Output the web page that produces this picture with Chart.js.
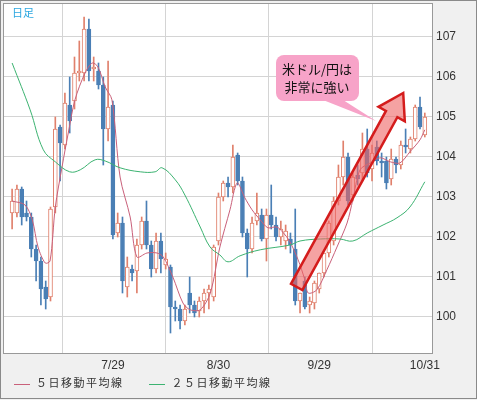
<!DOCTYPE html>
<html>
<head>
<meta charset="utf-8">
<script src="https://cdn.jsdelivr.net/npm/chart.js@4"></script>
<style>
  body { margin: 0; background: #fff; font-family: "Noto Sans CJK JP", sans-serif; }
  #wrap { position: relative; width: 477px; height: 400px; background: #f0f0f0; }
  #c { position: absolute; left: 0; top: 0; }
  #title { position: absolute; left: 12px; top: 4px; font-size: 11px; color: #2aa6e0; }
  #legend { position: absolute; left: 14px; top: 374px; font-size: 11px; color: #333; letter-spacing: 1.5px; }
  #legend span.ln { display: inline-block; width: 16px; height: 1px; vertical-align: middle; margin-right: 6px; }
  #callout { position: absolute; left: 0; top: 0; }
</style>
</head>
<body>
<div id="wrap">
  <canvas id="c" width="477" height="400"></canvas>
  <div id="title">日足</div>
  <svg id="callout" width="477" height="400">
    <polygon points="318,98 340,98 376,121" fill="#f7a3c8"/>
    <rect x="276" y="55" width="83" height="46" rx="8" ry="8" fill="#f7a3c8"/>
    <text x="317" y="74" text-anchor="middle" font-size="13" fill="#111" font-family="Noto Sans CJK JP">米ドル/円は</text>
    <text x="317" y="92" text-anchor="middle" font-size="13" fill="#111" font-family="Noto Sans CJK JP">非常に強い</text>
  </svg>
  <div id="legend">
    <span class="ln" style="background:#c9607a"></span>５日移動平均線
    <span class="ln" style="background:#3cb371;margin-left:22px"></span>２５日移動平均線
  </div>
</div>
<script>
// ローソク足 (始値, 高値, 安値, 終値)
const opens  = [102.6,102.6,103.2,102.6,102.5,101.7,101.4,100.75,100.5,102.75,104.75,104.3,105.3,105.4,106.1,106.1,107.2,106.2,106.15,105.8,104.7,105.3,102.1,102.35,100.75,101.2,101.15,101.8,102.4,101.8,101.2,101.9,101.3,101.25,100.25,100.2,99.9,100.6,100.3,100.15,100.4,100.6,100.5,101.9,103.0,103.35,103.25,104.05,103.4,102.1,101.7,102.4,102.55,101.95,102.55,102.3,102.0,101.9,101.95,101.7,100.4,100.9,100.3,100.35,100.7,101.1,101.6,101.9,102.9,103.5,104.0,103.05,103.55,103.6,104.2,103.7,104.25,103.9,103.9,103.45,103.95,103.8,104.3,104.2,104.45,105.25,104.55];
const highs  = [103.2,103.3,103.25,102.9,102.6,101.8,101.5,100.9,102.75,105.0,104.8,105.6,106.0,106.5,106.9,107.5,107.45,106.5,106.35,106.0,106.4,105.4,102.6,102.5,101.5,101.3,101.95,102.5,102.9,101.9,102.1,102.1,101.6,101.3,100.4,100.3,100.3,101.0,100.4,100.5,100.7,100.8,101.8,103.1,103.4,103.5,104.3,104.1,103.5,102.2,102.5,103.1,102.7,102.7,103.3,102.5,102.4,102.3,102.1,102.7,100.6,101.0,100.5,100.9,101.1,101.6,102.4,103.0,103.8,104.4,104.1,103.6,103.8,104.6,104.7,104.3,104.4,104.1,104.0,104.2,104.0,104.4,104.7,104.5,105.3,105.5,105.1];
const lows   = [102.2,102.5,102.3,102.4,101.5,100.9,100.3,100.2,100.4,102.6,103.4,104.2,104.6,105.2,105.9,105.9,105.9,105.9,105.7,103.8,104.4,101.95,102.0,100.6,100.5,100.9,100.6,101.7,101.7,101.0,101.1,101.1,101.2,99.6,99.9,99.7,99.8,100.1,100.0,100.0,100.1,100.2,100.4,101.8,102.9,103.0,103.1,103.3,102.0,101.0,101.6,102.3,101.9,101.4,102.2,101.9,101.8,101.7,101.6,100.3,100.1,100.2,100.1,100.2,100.6,101.0,101.5,101.8,102.8,103.3,102.8,102.9,103.3,103.4,103.5,103.4,103.8,103.5,103.2,103.3,103.6,103.7,104.1,104.1,104.4,104.7,104.5];
const closes = [102.9,103.2,102.5,102.5,101.7,101.4,100.7,100.45,102.7,104.7,104.35,105.35,104.9,106.1,106.15,107.2,106.15,106.25,105.8,104.7,105.25,102.05,102.35,100.9,101.25,101.1,101.8,102.4,101.8,101.2,101.9,101.45,101.45,100.25,100.2,99.9,100.2,100.3,100.1,100.4,100.6,100.7,101.75,103.0,103.35,103.25,104.0,103.4,102.1,101.7,102.35,102.6,101.95,102.55,102.3,102.0,102.2,102.15,101.8,100.4,100.6,100.25,100.4,100.85,101.1,101.6,102.35,102.9,103.5,104.0,102.9,103.5,103.45,104.2,103.6,104.1,103.9,103.85,103.35,103.95,103.8,104.3,104.25,104.45,105.25,104.75,105.0];

// 移動平均線 (チャートから読み取った点: [足番号, 値])
const ma5Pts = [[0,102.9],[2.7,102.8],[4.2,102.43],[5.4,101.75],[6.9,101.35],[7.9,101.4],[9,102.75],[10.4,103.75],[11.7,104.6],[13.1,105.43],[15.2,106.1],[16.7,106.35],[17.9,106.25],[19.4,105.75],[20.8,105.43],[22.5,103.5],[24.6,102.5],[26,101.5],[28.1,101.6],[30.2,101.6],[31.5,101.5],[33.5,101.0],[35.6,100.35],[37.1,100.18],[39.2,100.18],[41.3,100.6],[43.3,101.75],[45.4,102.68],[46.9,103.35],[48.5,102.98],[50,102.68],[51.7,102.43],[53.3,102.23],[55.2,102.25],[56.9,102.05],[57.9,101.88],[59.6,101.43],[61,100.93],[61.7,100.6],[63.5,100.68],[65.6,101.18],[67.7,101.75],[69.8,102.35],[71,102.93],[72.5,103.68],[74.6,103.85],[76.7,103.98],[78.8,103.88],[80.8,103.85],[82.9,104.13],[85,104.43],[86,104.68]];
const ma25Pts = [[0,106.35],[3.75,105.18],[6.5,104.18],[9,103.88],[12,103.63],[14.2,103.68],[17.3,103.93],[19.4,103.9],[22.5,103.73],[26.7,103.63],[29.8,103.63],[31.25,103.73],[34,103.43],[36,103.05],[39.2,102.25],[41.25,101.75],[43.3,101.55],[45,101.38],[47.5,101.53],[51.7,101.68],[57.9,101.8],[60,101.9],[64.2,101.95],[68.3,101.95],[71,101.9],[74,102.1],[77.3,102.3],[80.2,102.48],[82.9,102.75],[86,103.38]];

const dateIdx = [0, 21, 43, 64, 86];
const dateLabels = ['', '7/29', '8/30', '9/29', '10/31'];
const priceTicks = [100, 101, 102, 103, 104, 105, 106, 107];

const UP = '#e0806c', DOWN = '#4a7fb5';
const isUp = i => closes[i] >= opens[i];

const bodies = opens.map((o, i) => ({ x: i, y: [o, closes[i]] }));
const wicks = opens.map((o, i) => ({ x: i, y: [lows[i], highs[i]] }));

const bgPlugin = {
    id: 'bg',
    beforeDraw(chart) {
        const { ctx, chartArea: a } = chart;
        ctx.save();
        ctx.fillStyle = '#fff';
        ctx.fillRect(a.left, a.top, a.right - a.left, a.bottom - a.top);
        ctx.restore();
    },
    afterDraw(chart) {
        const { ctx, chartArea: a } = chart;
        ctx.save();
        ctx.strokeStyle = '#999';
        ctx.lineWidth = 1;
        ctx.strokeRect(a.left + 0.5, a.top + 0.5, a.right - a.left, a.bottom - a.top);
        ctx.strokeStyle = '#8a8a8a';
        ctx.strokeRect(0.5, 0.5, 476, 398);
        ctx.restore();
    }
};

// 赤い矢印
const arrowPlugin = {
    id: 'arrow',
    afterDatasetsDraw(chart) {
        const { ctx, scales: { x, y } } = chart;
        const x0 = x.getPixelForValue(59.3), y0 = y.getPixelForValue(100.75);
        const x1 = x.getPixelForValue(81.5), y1 = y.getPixelForValue(105.6);
        const len = Math.hypot(x1 - x0, y1 - y0);
        const ux = (x1 - x0) / len, uy = (y1 - y0) / len;
        const nx = -uy, ny = ux;
        const sw = 6.5, hw = 15, hl = 24;
        const bx = x1 - ux * hl, by = y1 - uy * hl;
        const pts = [
            [x0 + nx * sw, y0 + ny * sw], [bx + nx * sw, by + ny * sw], [bx + nx * hw, by + ny * hw],
            [x1, y1],
            [bx - nx * hw, by - ny * hw], [bx - nx * sw, by - ny * sw], [x0 - nx * sw, y0 - ny * sw]
        ];
        ctx.save();
        ctx.beginPath();
        pts.forEach((p, i) => i ? ctx.lineTo(p[0], p[1]) : ctx.moveTo(p[0], p[1]));
        ctx.closePath();
        ctx.fillStyle = 'rgba(238,100,100,0.6)';
        ctx.fill();
        ctx.strokeStyle = '#d41c1c';
        ctx.lineWidth = 2.5;
        ctx.stroke();
        ctx.restore();
    }
};

new Chart(document.getElementById('c'), {
    data: {
        datasets: [
            {
                type: 'line', label: '２５日移動平均線',
                data: ma25Pts.map(p => ({ x: p[0], y: p[1] })),
                borderColor: '#3cb371', borderWidth: 1, pointRadius: 0, tension: 0.4, order: 0
            },
            {
                type: 'line', label: '５日移動平均線',
                data: ma5Pts.map(p => ({ x: p[0], y: p[1] })),
                borderColor: '#c9607a', borderWidth: 1, pointRadius: 0, tension: 0.3, order: 0
            },
            {
                type: 'bar', data: bodies, grouped: false, barThickness: 4,
                backgroundColor: bodies.map((b, i) => isUp(i) ? '#fff' : DOWN),
                borderColor: bodies.map((b, i) => isUp(i) ? UP : DOWN),
                borderWidth: 1, borderSkipped: false, order: 1
            },
            {
                type: 'bar', data: wicks, grouped: false, barThickness: 1,
                backgroundColor: wicks.map((w, i) => isUp(i) ? UP : DOWN),
                borderWidth: 0, order: 2
            }
        ]
    },
    options: {
        responsive: false,
        animation: false,
        layout: { padding: { left: 3, top: 3, right: 0, bottom: 0 } },
        plugins: { legend: { display: false }, tooltip: { enabled: false } },
        scales: {
            x: {
                type: 'linear', min: -1.9, max: 87.5, offset: false,
                afterBuildTicks: s => { s.ticks = dateIdx.map(v => ({ value: v })); },
                afterFit: s => { s.height = 47; s.paddingLeft = 0; s.paddingRight = 0; },
                ticks: {
                    callback: v => dateLabels[dateIdx.indexOf(v)],
                    autoSkip: false,
                    color: '#333', font: { size: 12, family: 'Liberation Sans' }, padding: 5, maxRotation: 0
                },
                grid: { color: '#d4d4d4', drawTicks: false },
                border: { display: false }
            },
            y: {
                position: 'right', min: 99.1, max: 107.85,
                afterBuildTicks: s => { s.ticks = priceTicks.map(v => ({ value: v })); },
                afterFit: s => { s.width = 45; s.paddingTop = 0; s.paddingBottom = 0; },
                ticks: { color: '#333', font: { size: 12, family: 'Liberation Sans' }, padding: 4 },
                grid: { color: '#d4d4d4', drawTicks: false },
                border: { display: false }
            }
        }
    },
    plugins: [bgPlugin, arrowPlugin]
});
</script>
</body>
</html>
